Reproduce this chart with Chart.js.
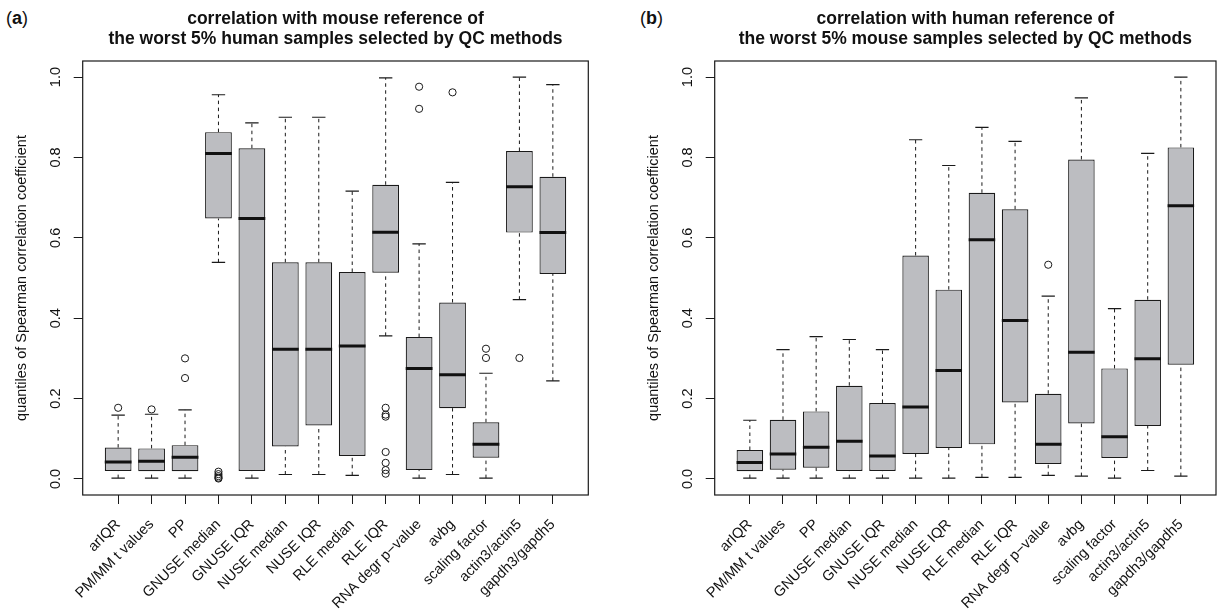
<!DOCTYPE html>
<html>
<head>
<meta charset="utf-8">
<script src="https://cdn.jsdelivr.net/npm/chart.js@4"></script>
<style>
  body { margin: 0; background: #fff; width: 1221px; height: 613px; position: relative; overflow: hidden; font-family: 'Liberation Sans', Arial, sans-serif; }
  canvas { position: absolute; top: 0; }
  .tag { position: absolute; top: 9px; font-size: 18px; line-height: 1; color: #111; }
</style>
</head>
<body>
<div class="tag" style="left:6px">(<b>a</b>)</div>
<div class="tag" style="left:640px">(<b>b</b>)</div>
<canvas id="chartA" width="610" height="613" style="left:0"></canvas>
<canvas id="chartB" width="589" height="613" style="left:632px"></canvas>
<script>
const methods = ['arIQR', 'PM/MM t values', 'PP', 'GNUSE median', 'GNUSE IQR', 'NUSE median', 'NUSE IQR',
  'RLE median', 'RLE IQR', 'RNA degr p\u2212value', 'avbg', 'scaling factor', 'actin3/actin5', 'gapdh3/gapdh5'];
const yTicks = [0, 0.2, 0.4, 0.6, 0.8, 1.0];

// (a) worst 5% human samples, correlation with mouse reference
const lowA  = [0.002, 0.002, 0.002, 0.539, 0.002, 0.011, 0.011, 0.009, 0.356, 0.002, 0.011, 0.002, 0.446, 0.244];
const q1A   = [0.020, 0.019, 0.019, 0.648, 0.020, 0.081, 0.133, 0.057, 0.513, 0.022, 0.176, 0.053, 0.613, 0.510];
const medA  = [0.042, 0.044, 0.054, 0.810, 0.648, 0.323, 0.323, 0.331, 0.614, 0.275, 0.259, 0.086, 0.727, 0.613];
const q3A   = [0.078, 0.076, 0.084, 0.863, 0.823, 0.539, 0.539, 0.515, 0.732, 0.353, 0.439, 0.141, 0.816, 0.752];
const highA = [0.159, 0.161, 0.172, 0.956, 0.886, 0.900, 0.900, 0.716, 0.998, 0.585, 0.738, 0.263, 1.000, 0.981];
const outA  = [[0.177], [0.173], [0.300, 0.251], [0.018, 0.012, 0.007, 0.003, 0.001], [], [], [], [],
  [0.177, 0.160, 0.155, 0.067, 0.040, 0.022, 0.013], [0.976, 0.921], [0.962], [0.324, 0.301], [0.301], []];

// (b) worst 5% mouse samples, correlation with human reference
const lowB  = [0.002, 0.002, 0.002, 0.002, 0.002, 0.002, 0.002, 0.004, 0.004, 0.009, 0.007, 0.002, 0.021, 0.007];
const q1B   = [0.019, 0.023, 0.028, 0.020, 0.020, 0.062, 0.077, 0.086, 0.190, 0.037, 0.138, 0.052, 0.132, 0.284];
const medB  = [0.041, 0.062, 0.079, 0.094, 0.057, 0.179, 0.270, 0.595, 0.394, 0.086, 0.315, 0.105, 0.299, 0.680];
const q3B   = [0.072, 0.147, 0.168, 0.232, 0.189, 0.556, 0.471, 0.712, 0.671, 0.212, 0.795, 0.275, 0.446, 0.825];
const highB = [0.146, 0.322, 0.354, 0.347, 0.322, 0.844, 0.780, 0.875, 0.840, 0.455, 0.948, 0.424, 0.810, 1.000];
const outB  = [[], [], [], [], [], [], [], [], [], [0.533], [], [], [], []];

Chart.defaults.font.family = "'Liberation Sans', Arial, sans-serif";
Chart.defaults.color = '#111';

const ink = '#1a1a1a';
const boxFill = '#bcbdc1';

// box-and-frame outline around the plot region, like R's box()
const frame = {
  id: 'frame',
  afterDraw(chart) {
    const { ctx, chartArea: a } = chart;
    ctx.save();
    ctx.strokeStyle = ink;
    ctx.lineWidth = 1.2;
    ctx.strokeRect(a.left, a.top, a.right - a.left, a.bottom - a.top);
    ctx.restore();
  }
};

// half-width in pixels of a span of x units
function halfPx(ctx, units) {
  const x = ctx.chart.scales.x;
  return x.getPixelForValue(1 + units) - x.getPixelForValue(1);
}

function makePanel(id, title, low, q1, med, q3, high, outliers, padRight) {
  const whiskers = [];
  const caps = [];
  const dots = [];
  methods.forEach((m, i) => {
    const x = i + 1;
    whiskers.push({ x, y: low[i] }, { x, y: q1[i] }, { x, y: null });
    whiskers.push({ x, y: q3[i] }, { x, y: high[i] }, { x, y: null });
    caps.push({ x, y: low[i] }, { x, y: high[i] });
    outliers[i].forEach(v => dots.push({ x, y: v }));
  });

  new Chart(document.getElementById(id), {
    type: 'bar',
    data: {
      datasets: [
        {
          type: 'bar',
          data: methods.map((m, i) => ({ x: i + 1, y: [q1[i], q3[i]] })),
          backgroundColor: boxFill,
          borderColor: ink,
          borderWidth: 1.2,
          borderSkipped: false,
          barPercentage: 0.8,
          categoryPercentage: 1,
          order: 3
        },
        {
          type: 'line',
          data: whiskers,
          borderColor: ink,
          borderWidth: 1,
          borderDash: [3.5, 3.5],
          pointRadius: 0,
          spanGaps: false,
          fill: false,
          order: 4
        },
        {
          type: 'scatter',
          data: caps,
          pointStyle: 'line',
          pointRadius: ctx => halfPx(ctx, 0.2),
          borderColor: ink,
          borderWidth: 1.2,
          order: 1
        },
        {
          type: 'scatter',
          data: methods.map((m, i) => ({ x: i + 1, y: med[i] })),
          pointStyle: 'line',
          pointRadius: ctx => halfPx(ctx, 0.4),
          borderColor: '#111',
          borderWidth: 3,
          order: 0
        },
        {
          type: 'scatter',
          data: dots,
          pointStyle: 'circle',
          pointRadius: 3.6,
          backgroundColor: 'rgba(0,0,0,0)',
          borderColor: ink,
          borderWidth: 1,
          order: 1
        }
      ]
    },
    options: {
      responsive: false,
      animation: false,
      events: [],
      layout: { padding: { left: 0, right: padRight, top: 0, bottom: 0 } },
      plugins: {
        legend: { display: false },
        tooltip: { enabled: false },
        title: {
          display: true,
          text: title,
          fullSize: false,
          color: '#111',
          font: { size: 17.5, weight: 'bold', lineHeight: 1.15 },
          padding: { top: 9, bottom: 11.75 }
        }
      },
      scales: {
        x: {
          type: 'linear',
          min: -0.06,
          max: 15.06,
          offset: false,
          afterBuildTicks: s => { s.ticks = methods.map((m, i) => ({ value: i + 1 })); },
          afterFit: s => { s.height = 118; },
          border: { display: false },
          grid: { drawOnChartArea: false, drawTicks: true, tickLength: 9, color: ink, offset: false },
          ticks: {
            autoSkip: false,
            minRotation: 45,
            maxRotation: 45,
            padding: 12,
            color: '#111',
            font: { size: 14.5 },
            callback: (v, i) => methods[i]
          }
        },
        y: {
          type: 'linear',
          min: -0.04,
          max: 1.04,
          afterBuildTicks: s => { s.ticks = yTicks.map(v => ({ value: v })); },
          afterFit: s => { s.width = 82.7; },
          border: { display: false },
          grid: { drawOnChartArea: false, drawTicks: true, tickLength: 9, color: ink },
          ticks: {
            minRotation: 90,
            maxRotation: 90,
            crossAlign: 'center',
            padding: 8,
            color: '#111',
            font: { size: 14.5 },
            callback: v => v.toFixed(1)
          },
          title: {
            display: true,
            text: 'quantiles of Spearman correlation coefficient',
            color: '#111',
            font: { size: 14.5 },
            padding: { top: 12.8, bottom: 0 }
          }
        }
      }
    },
    plugins: [frame]
  });
}

makePanel('chartA', ['correlation with mouse reference of', 'the worst 5% human samples selected by QC methods'],
  lowA, q1A, medA, q3A, highA, outA, 21.7);
makePanel('chartB', ['correlation with human reference of', 'the worst 5% mouse samples selected by QC methods'],
  lowB, q1B, medB, q3B, highB, outB, 2);
</script>
</body>
</html>
